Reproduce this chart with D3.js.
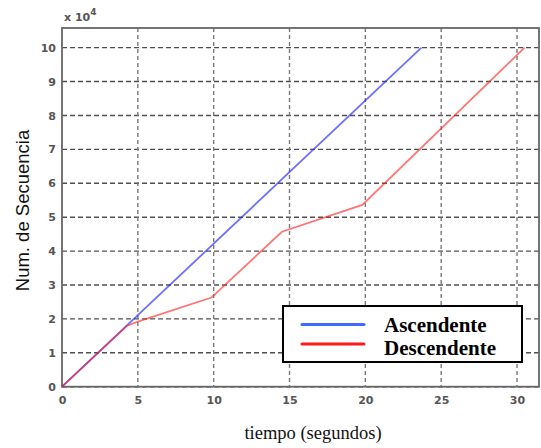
<!DOCTYPE html>
<html>
<head>
<meta charset="utf-8">
<script src="https://cdn.jsdelivr.net/npm/d3@7"></script>
<style>
  html, body { margin: 0; padding: 0; background: #fff; }
  svg { display: block; }
</style>
</head>
<body>
<svg id="chart" width="541" height="448"></svg>
<script>
// Sequence number (x 10^4) against time in seconds
const ascTime = [0, 23.7];
const ascSeq  = [0, 10];
const descTime = [0, 4.3, 5, 9.85, 14.5, 19.8, 30.5];
const descSeq  = [0, 1.8, 1.92, 2.63, 4.57, 5.36, 10];

const xTicks = [0, 5, 10, 15, 20, 25, 30];
const yTicks = [0, 1, 2, 3, 4, 5, 6, 7, 8, 9, 10];
const legendNames = ["Ascendente", "Descendente"];
const seriesColors = ["#3f6bff", "#ff1a1a"];

const svg = d3.select("#chart");
const m = { left: 62, right: 539, top: 28, bottom: 386.7 };

const x = d3.scaleLinear().domain([0, 31.45]).range([m.left, m.right]);
const y = d3.scaleLinear().domain([0, 10.58]).range([m.bottom, m.top]);

// grid
const grid = svg.append("g");
grid.selectAll("line.h").data(yTicks).join("line")
  .attr("x1", m.left).attr("x2", m.right)
  .attr("y1", d => y(d)).attr("y2", d => y(d))
  .attr("stroke", "#505050").attr("stroke-width", 1.4)
  .attr("stroke-dasharray", "5,3");
grid.selectAll("line.v").data(xTicks.slice(1)).join("line")
  .attr("x1", d => x(d)).attr("x2", d => x(d))
  .attr("y1", m.top).attr("y2", m.bottom)
  .attr("stroke", "#7a7a7a").attr("stroke-width", 1.4)
  .attr("stroke-dasharray", "4,3");

// frame
svg.append("rect")
  .attr("x", m.left).attr("y", m.top)
  .attr("width", m.right - m.left).attr("height", m.bottom - m.top)
  .attr("fill", "none").attr("stroke", "#666").attr("stroke-width", 1.8);

// tick labels
const yAxis = d3.axisLeft(y).tickValues(yTicks).tickSize(0).tickPadding(6);
const yg = svg.append("g").attr("transform", `translate(${m.left},0)`).call(yAxis);
yg.select(".domain").remove();
yg.selectAll("text").attr("fill", "#555").attr("font-family", "DejaVu Sans, sans-serif")
  .attr("font-size", 11).attr("font-weight", "bold");

const xAxis = d3.axisBottom(x).tickValues(xTicks).tickSize(0).tickPadding(10);
const xg = svg.append("g").attr("transform", `translate(0,${m.bottom})`).call(xAxis);
xg.select(".domain").remove();
xg.selectAll("text").attr("fill", "#555").attr("font-family", "DejaVu Sans, sans-serif")
  .attr("font-size", 11).attr("font-weight", "bold");

// exponent
const ex = svg.append("text").attr("x", 64).attr("y", 21)
  .attr("fill", "#555").attr("font-family", "DejaVu Sans, sans-serif")
  .attr("font-size", 11).attr("font-weight", "bold");
ex.append("tspan").text("x 10");
ex.append("tspan").attr("dy", -6).attr("font-size", 9).text("4");

// series
const line = d3.line().x(d => x(d[0])).y(d => y(d[1]));
svg.append("path")
  .datum(ascTime.map((t, i) => [t, ascSeq[i]]))
  .attr("d", line).attr("fill", "none")
  .attr("stroke", "#3030ff").attr("stroke-opacity", 0.7).attr("stroke-width", 1.8);
svg.append("path")
  .datum(descTime.map((t, i) => [t, descSeq[i]]))
  .attr("d", line).attr("fill", "none")
  .attr("stroke", "#ff2020").attr("stroke-opacity", 0.62).attr("stroke-width", 1.8);

// axis titles
svg.append("text")
  .attr("transform", "translate(28.5,210.5) rotate(-90)")
  .attr("text-anchor", "middle")
  .attr("font-family", "Liberation Sans, Arial, sans-serif")
  .attr("font-size", 18.5).attr("fill", "#111")
  .text("Num. de Secuencia");
svg.append("text")
  .attr("x", 313).attr("y", 439)
  .attr("text-anchor", "middle")
  .attr("font-family", "Liberation Serif, Times New Roman, serif")
  .attr("font-size", 18.5).attr("fill", "#111")
  .text("tiempo (segundos)");

// legend
const lg = svg.append("g");
lg.append("rect").attr("x", 283).attr("y", 306).attr("width", 239).attr("height", 56)
  .attr("fill", "#fff").attr("stroke", "#000").attr("stroke-width", 2);
legendNames.forEach((name, i) => {
  const ly = 324.5 + i * 19.5;
  lg.append("line").attr("x1", 302).attr("x2", 364).attr("y1", ly).attr("y2", ly)
    .attr("stroke", seriesColors[i]).attr("stroke-width", 3).attr("stroke-linecap", "round");
  lg.append("text").attr("x", 384).attr("y", 331.5 + i * 23)
    .attr("font-family", "Liberation Serif, Times New Roman, serif")
    .attr("font-size", 21).attr("font-weight", "bold").attr("fill", "#000")
    .text(name);
});
</script>
</body>
</html>
